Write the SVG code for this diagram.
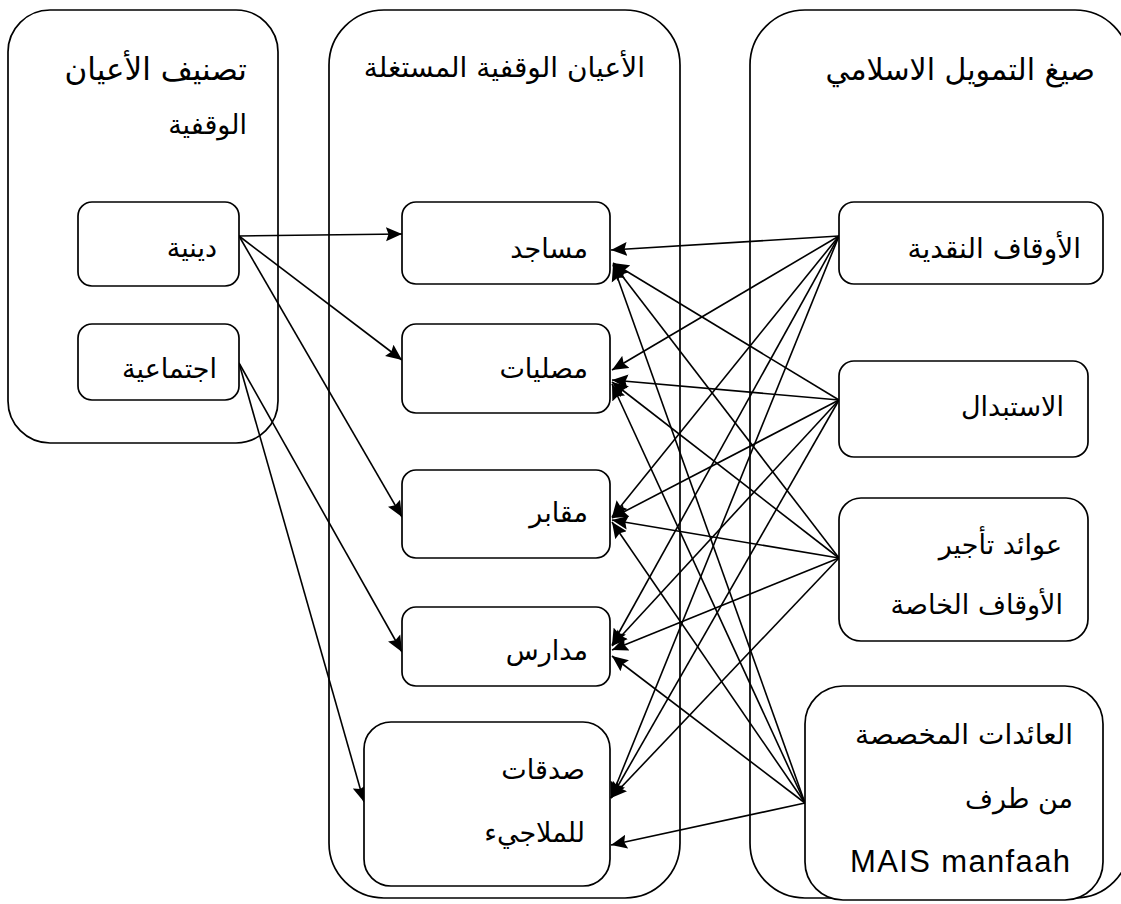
<svg xmlns="http://www.w3.org/2000/svg" width="1121" height="904" viewBox="0 0 1121 904">
<style>
.c{fill:#fff;stroke:#000;stroke-width:1.7}
.n{fill:#fff;stroke:#000;stroke-width:1.7}
.t{font-family:"DejaVu Sans","Liberation Sans",sans-serif;font-size:27px;fill:#000;text-anchor:end}
.l{font-family:"Liberation Sans",Arial,sans-serif;font-size:31px;fill:#000;text-anchor:end}
.e{fill:none;stroke:#000;stroke-width:1.6;marker-end:url(#a)}
</style>
<defs>
<marker id="a" markerUnits="userSpaceOnUse" markerWidth="17" markerHeight="15" refX="16" refY="7.5" orient="auto">
<path d="M0,0.5 L16,7.5 L0,14.5 L2.5,7.5 z" fill="#000"/>
</marker>
</defs>
<g id="containers">
<g id="c-classification"><rect class="c" x="8" y="10" width="270" height="433" rx="42"/>
<text class="t" x="247" y="80" style="font-size:31px">تصنيف الأعيان</text>
<text class="t" x="247" y="134">الوقفية</text></g>
<g id="c-assets"><rect class="c" x="329" y="10" width="351" height="888" rx="55"/>
<text class="t" x="645" y="77" style="font-size:28px">الأعيان الوقفية المستغلة</text></g>
<g id="c-finance"><rect class="c" x="750" y="10" width="380" height="888" rx="55"/>
<text class="t" x="1095" y="80" style="font-size:30px">صيغ التمويل الاسلامي</text></g>
</g>
<g id="connectors">
<path class="e" d="M239,236 L402,234"/>
<path class="e" d="M239,236 L402,360"/>
<path class="e" d="M239,236 L402,517"/>
<path class="e" d="M239,363 L402,652"/>
<path class="e" d="M239,363 L364,802"/>
<path class="e" d="M839,236 L611,250"/>
<path class="e" d="M839,236 L612,370"/>
<path class="e" d="M839,236 L612,517"/>
<path class="e" d="M839,236 L612,645"/>
<path class="e" d="M839,236 L611,798"/>
<path class="e" d="M839,400 L613,263"/>
<path class="e" d="M839,400 L612,380"/>
<path class="e" d="M839,400 L612,518"/>
<path class="e" d="M839,400 L612,646"/>
<path class="e" d="M839,400 L611,798"/>
<path class="e" d="M839,558 L613,264"/>
<path class="e" d="M839,558 L612,382"/>
<path class="e" d="M839,558 L612,520"/>
<path class="e" d="M839,558 L612,650"/>
<path class="e" d="M839,558 L611,798"/>
<path class="e" d="M805,803 L613,265"/>
<path class="e" d="M805,803 L612,384"/>
<path class="e" d="M805,803 L612,522"/>
<path class="e" d="M805,803 L612,656"/>
<path class="e" d="M805,803 L611,845"/>
</g>
<g id="n-religious"><rect class="n" x="78" y="202" width="161" height="84" rx="14"/><text class="t" x="217" y="257">دينية</text></g>
<g id="n-social"><rect class="n" x="78" y="324" width="161" height="76" rx="14"/><text class="t" x="217" y="378">اجتماعية</text></g>
<g id="n-mosques"><rect class="n" x="402" y="202" width="208" height="82" rx="14"/><text class="t" x="588" y="258">مساجد</text></g>
<g id="n-prayer"><rect class="n" x="402" y="324" width="208" height="89" rx="14"/><text class="t" x="588" y="378">مصليات</text></g>
<g id="n-cemeteries"><rect class="n" x="402" y="470" width="208" height="88" rx="14"/><text class="t" x="588" y="522">مقابر</text></g>
<g id="n-schools"><rect class="n" x="402" y="607" width="208" height="79" rx="14"/><text class="t" x="588" y="660">مدارس</text></g>
<g id="n-charity"><rect class="n" x="364" y="722" width="246" height="164" rx="27"/><text class="t" x="585" y="779">صدقات</text><text class="t" x="585" y="842">للملاجيء</text></g>
<g id="n-cash"><rect class="n" x="839" y="202" width="264" height="82" rx="15"/><text class="t" x="1081" y="258" style="font-size:28px">الأوقاف النقدية</text></g>
<g id="n-exchange"><rect class="n" x="839" y="361" width="249" height="96" rx="15"/><text class="t" x="1064" y="416">الاستبدال</text></g>
<g id="n-rent"><rect class="n" x="839" y="498" width="249" height="143" rx="22"/><text class="t" x="1062" y="554">عوائد تأجير</text><text class="t" x="1063" y="614">الأوقاف الخاصة</text></g>
<g id="n-mais"><rect class="n" x="805" y="686" width="298" height="214" rx="38"/><text class="t" x="1073" y="744" style="font-size:28px">العائدات المخصصة</text><text class="t" x="1073" y="808">من طرف</text><text class="l" x="1070" y="872" textLength="220" lengthAdjust="spacing">MAIS manfaah</text></g>
</svg>
